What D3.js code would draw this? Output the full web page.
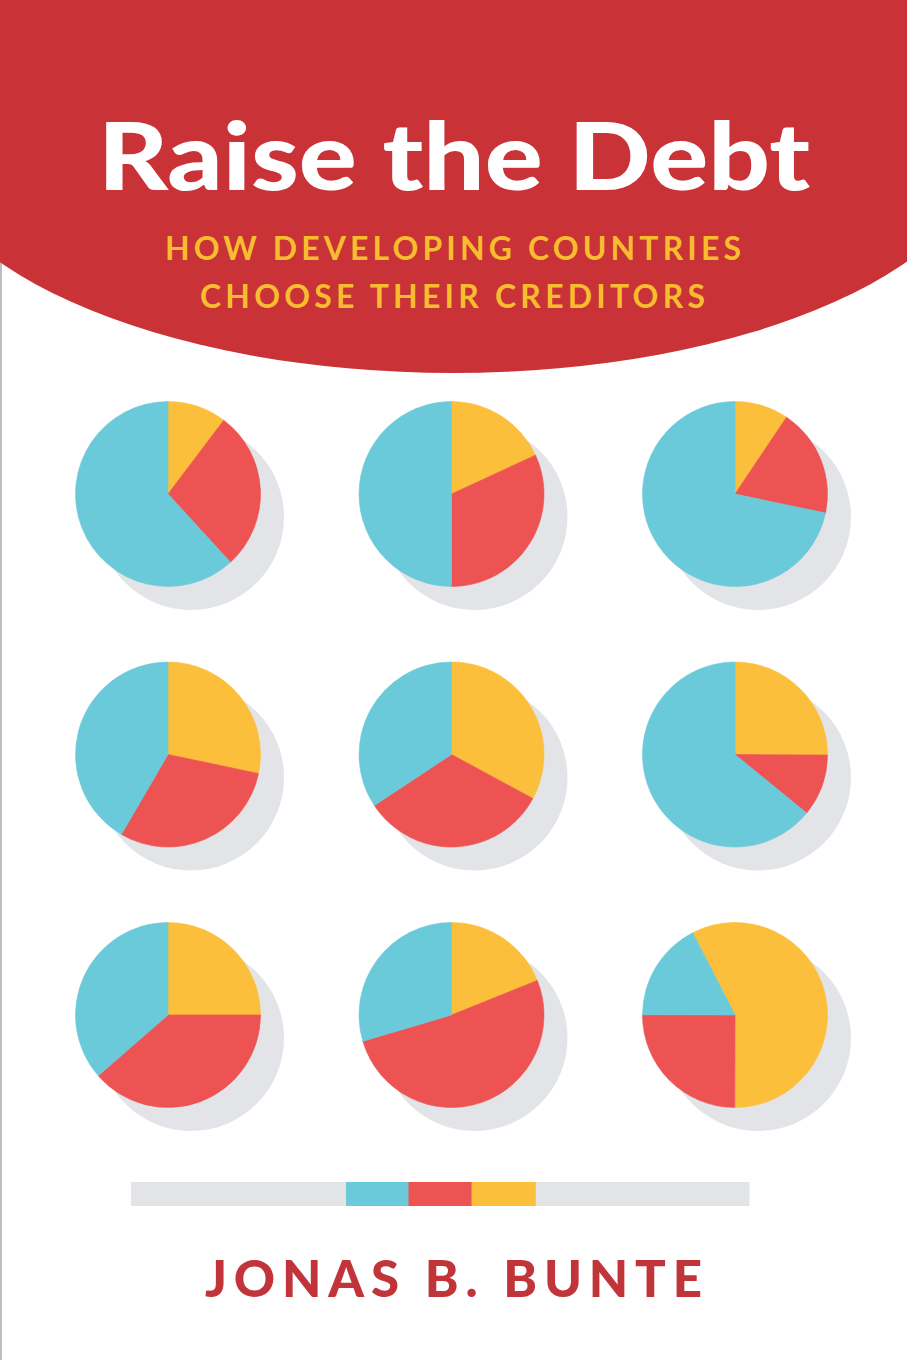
<!DOCTYPE html>
<html>
<head>
<meta charset="utf-8">
<script src="https://cdn.jsdelivr.net/npm/d3@7"></script>
<style>
  html, body { margin: 0; padding: 0; background: #ffffff; }
  svg { display: block; }
</style>
</head>
<body>
<div id="chart"></div>
<script>
// ---- Data (shares in percent) ----
const pieIds   = ["p1","p2","p3","p4","p5","p6","p7","p8","p9"];
const yellowShare = [10.3, 18.1,  9.4, 28.3, 32.9, 25.1, 25.0, 18.9, 57.6];
const redShare    = [27.9, 31.9, 18.9, 30.1, 32.8, 10.8, 38.6, 51.5, 25.0];
const blueShare   = [61.8, 50.0, 71.7, 41.6, 34.3, 64.1, 36.4, 29.6, 17.4];
const pieRotationDeg = [0, 0, 0, 0, 0, 0, 0, 0, -27.2];
const seriesKeys = ["yellow", "red", "blue"];
const barKeys   = ["grey", "blue", "red", "yellow", "grey"];
const barShares = [34.8, 10.1, 10.2, 10.4, 34.5];
const titleText = "Raise the Debt";
const subtitleLines = ["HOW DEVELOPING COUNTRIES", "CHOOSE THEIR CREDITORS"];
const authorText = "JONAS B. BUNTE";

// ---- Styles ----
const W = 907, H = 1360;
const colors = { yellow: "#FBBF3B", red: "#EE5353", blue: "#6BCAD9", grey: "#E3E4E8" };
const headerRed = "#C93236";

const svg = d3.select("#chart").append("svg")
  .attr("width", W).attr("height", H).attr("viewBox", `0 0 ${W} ${H}`);

svg.append("rect").attr("width", W).attr("height", H).attr("fill", "#ffffff");

// page edge line
svg.append("rect").attr("x", 0).attr("y", 262).attr("width", 2).attr("height", H - 262)
  .attr("fill", "#BDBDBD");

// ---- Header ----
svg.append("rect").attr("x", 0).attr("y", 0).attr("width", W).attr("height", 135).attr("fill", headerRed);
svg.append("ellipse").attr("cx", 453).attr("cy", 130).attr("rx", 540).attr("ry", 243).attr("fill", headerRed);

svg.append("text")
  .attr("x", 98).attr("y", 190)
  .attr("textLength", 712).attr("lengthAdjust", "spacingAndGlyphs")
  .attr("font-family", "Lato, 'Open Sans', sans-serif")
  .attr("font-weight", 900).attr("font-size", 94)
  .attr("fill", "#ffffff")
  .text(titleText);

const subX = [165, 200], subLen = [576, 505], subY = [260, 308];
svg.selectAll("text.sub").data(subtitleLines).join("text")
  .attr("class", "sub")
  .attr("x", (d, i) => subX[i]).attr("y", (d, i) => subY[i])
  .attr("textLength", (d, i) => subLen[i]).attr("lengthAdjust", "spacing")
  .attr("font-family", "Lato, 'Open Sans', sans-serif")
  .attr("font-weight", 700).attr("font-size", 32)
  .attr("fill", "#F8BD2F")
  .text(d => d);

// ---- Pies ----
const col = d3.scalePoint().domain([0, 1, 2]).range([168, 735]);
const row = d3.scalePoint().domain([0, 1, 2]).range([494, 1015]);
const R = 92.5, shadowOff = 23;

const pieData = pieIds.map((id, i) => ({
  id, i,
  values: [
    { key: "yellow", v: yellowShare[i] },
    { key: "red", v: redShare[i] },
    { key: "blue", v: blueShare[i] }
  ],
  rot: pieRotationDeg[i] * Math.PI / 180
}));

const arc = d3.arc().innerRadius(0).outerRadius(R);

const g = svg.selectAll("g.pie").data(pieData).join("g")
  .attr("class", "pie")
  .attr("transform", d => `translate(${col(d.i % 3)},${row(Math.floor(d.i / 3))})`);

g.append("circle")
  .attr("cx", shadowOff).attr("cy", shadowOff).attr("r", R + 0.5)
  .attr("fill", colors.grey);

g.each(function (d) {
  const layout = d3.pie().sort(null).value(s => s.v)
    .startAngle(d.rot).endAngle(d.rot + 2 * Math.PI);
  d3.select(this).selectAll("path").data(layout(d.values)).join("path")
    .attr("d", arc)
    .attr("fill", s => colors[s.data.key])
    .attr("stroke", s => colors[s.data.key]).attr("stroke-width", 0.6);
});

// ---- Bar ----
const bx = d3.scaleLinear().domain([0, 100]).range([131, 749]);
let acc = 0;
const segs = barShares.map((v, i) => { const s = { key: barKeys[i], x0: acc, x1: acc + v }; acc += v; return s; });
svg.selectAll("rect.seg").data(segs).join("rect")
  .attr("class", "seg")
  .attr("x", d => bx(d.x0)).attr("y", 1182)
  .attr("width", d => bx(d.x1) - bx(d.x0) + 0.5).attr("height", 24)
  .attr("fill", d => colors[d.key]);

// ---- Author ----
svg.append("text")
  .attr("x", 205).attr("y", 1297)
  .attr("textLength", 497).attr("lengthAdjust", "spacing")
  .attr("font-family", "Lato, 'Open Sans', sans-serif")
  .attr("font-weight", 900).attr("font-size", 51)
  .attr("fill", "#C1343A")
  .text(authorText);
</script>
</body>
</html>
